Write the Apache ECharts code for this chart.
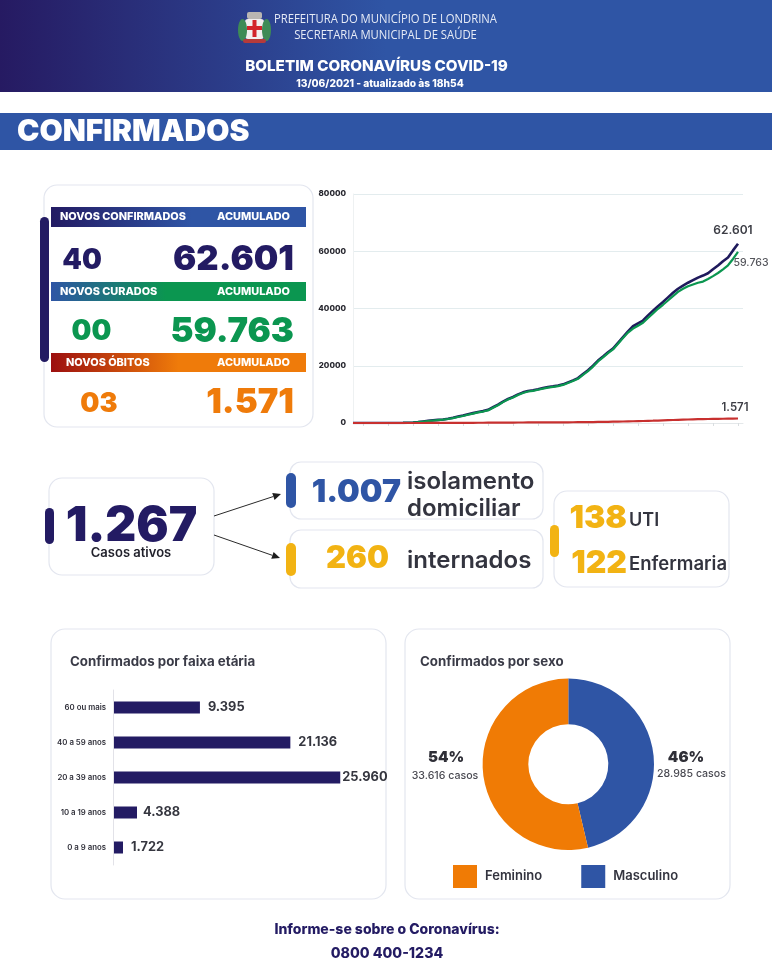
<!DOCTYPE html>
<html><head><meta charset="utf-8">
<style>html,body{margin:0;padding:0;background:#fff}#c{width:772px;height:960px}</style>
<script src="https://cdn.jsdelivr.net/npm/echarts@6/dist/echarts.min.js"></script>
</head><body><div id="c"></div>
<script>
// ---- data ----
const weeks = ['s0','s1','s2','s3','s4','s5','s6','s7','s8','s9','s10','s11','s12','s13','s14','s15','s16','s17','s18','s19','s20','s21','s22','s23','s24','s25','s26','s27','s28','s29','s30','s31','s32','s33','s34','s35','s36','s37','s38','s39','s40','s41','s42','s43','s44','s45','s46','s47','s48','s49','s50','s51','s52','s53','s54','s55','s56','s57','s58','s59','s60','s61','s62','s63','s64','s65','s66','s67','s68','s69','s70','s71','s72','s73','s74','s75','s76','s77','s78'];
const confirmados = [0,0,0,0,0,0,0,0,0,10,30,80,200,350,550,750,950,1100,1250,1500,1850,2250,2600,3050,3450,3850,4150,4600,5500,6400,7500,8400,9100,10000,10700,11200,11450,11800,12200,12550,12800,13100,13500,14200,14900,15700,17100,18400,20000,21800,23200,24700,26000,28000,30000,32000,33800,34800,35800,37600,39200,40800,42300,43900,45500,46900,48000,49000,49900,50800,51500,52300,53700,55000,56500,57800,60300,62601];
const curados = [0,0,0,0,0,0,0,0,0,0,10,50,150,280,450,650,850,1000,1150,1400,1700,2100,2450,2900,3300,3700,4000,4400,5300,6200,7300,8200,8900,9800,10500,11000,11250,11600,12000,12350,12600,12900,13300,14000,14650,15450,16800,18100,19700,21500,22900,24400,25700,27700,29700,31600,33000,34000,35000,36700,38300,39900,41300,42800,44300,45800,46900,47800,48400,49000,49400,50300,51300,52400,53700,55100,57300,59763];
const obitos = [0,0,0,0,0,0,0,0,0,0,1,2,4,6,8,10,14,18,24,30,36,42,50,60,70,80,90,100,112,125,138,150,160,170,178,185,190,196,202,210,218,226,235,245,258,272,290,310,335,360,390,420,455,490,530,575,620,660,700,750,800,860,920,980,1040,1100,1160,1220,1270,1320,1360,1400,1430,1460,1490,1520,1550,1571];
const faixas = ['0 a 9 anos','10 a 19 anos','20 a 39 anos','40 a 59 anos','60 ou mais'];
// printed numbers, and the bar lengths as the picture actually draws them
const faixaValores = [1722,4388,25960,21136,9395];
const faixaBarras = [1140,2740,25960,20260,9930];
const sexos = ['Masculino','Feminino'];
const sexoValores = [28985,33616];
const yTicks = [0,20000,40000,60000,80000];

const NAVY='#231b63', BLUE='#2f55a5', GREEN='#0b9650', ORANGE='#ef7b0a', YELLOW='#f2b313', RED='#c8302f', INK='#33343f';
const SANS='Inter';
const fmt = v => String(v).replace(/\B(?=(\d{3})+$)/g,'.');

function T(x,y,text,font,fill,align,scaleX){
  return {type:'text',z:5,x,y,scaleX:scaleX||1,style:{x:0,y:0,text,font,fill,textAlign:align||'left',textVerticalAlign:'middle'}};
}
function R(x,y,w,h,r,fill,stroke,z){
  return {type:'rect',z:z||1,shape:{x,y,width:w,height:h,r},style:{fill,stroke:stroke||null,lineWidth:stroke?1.2:0}};
}
function G(a,b,stop){
  return {type:'linear',x:0,y:0,x2:1,y2:0,colorStops:[{offset:0,color:a},{offset:stop,color:b},{offset:1,color:b}]};
}
function arrow(x1,y1,x2,y2){
  const a=Math.atan2(y2-y1,x2-x1),L=8,W=3.6;
  const bx=x2-L*Math.cos(a),by=y2-L*Math.sin(a);
  return [
    {type:'line',z:3,shape:{x1,y1,x2:bx,y2:by},style:{stroke:'#2a2a2a',lineWidth:1}},
    {type:'polygon',z:3,shape:{points:[[x2,y2],[bx-W*Math.sin(a),by+W*Math.cos(a)],[bx+W*Math.sin(a),by-W*Math.cos(a)]]},style:{fill:'#1d1d1d'}}
  ];
}
const PANEL='#e3e6ef';
const BIG='900 34.6px '+SANS, MID='900 28px '+SANS;
const BAND='800 10.9px '+SANS;
const g=[
  // header
  R(0,0,772,92,0,G('#261a62',BLUE,0.5)),
  R(0,113,772,37,0,BLUE),
  // crest
  {type:'ellipse',z:3,shape:{cx:242.5,cy:30,rx:4.5,ry:11},style:{fill:'#3e8b56'}},
  {type:'ellipse',z:3,shape:{cx:266.5,cy:30,rx:4.5,ry:11},style:{fill:'#3e8b56'}},
  R(245,19,19,20,3,'#f1eeee'),
  R(252.5,20,4,17,0,'#d2232a',null,4),
  R(247,26,15,4,0,'#d2232a',null,4),
  R(247,12,15,7,2,'#b9b6b2',null,4),
  R(243,39,23,4,2,'#b53a3a',null,4),
  T(385.5,20,'PREFEITURA DO MUNICÍPIO DE LONDRINA','400 12px "Open Sans"','#e6ebf6','center',0.94),
  T(385.5,36,'SECRETARIA MUNICIPAL DE SAÚDE','400 12px "Open Sans"','#e6ebf6','center',0.94),
  T(376.5,66,'BOLETIM CORONAVÍRUS COVID-19','800 15.2px '+SANS,'#fff','center'),
  T(380,84,'13/06/2021 - atualizado às 18h54','800 10.2px '+SANS,'#fff','center'),
  T(17,132,'CONFIRMADOS','900 30px '+SANS,'#fff','left'),
  // KPI panel
  R(44,185,269,242,13,'#fff',PANEL),
  R(40,217,9,145,4.5,NAVY,null,3),
  R(51,207,255,20,0,G(NAVY,BLUE,0.55),null,2),
  R(51,282,255,19,0,G(BLUE,GREEN,0.45),null,2),
  R(51,353,255,19,0,G('#9c0f0f',ORANGE,0.5),null,2),
  T(60,217,'NOVOS CONFIRMADOS',BAND,'#fff'),
  T(290,217,'ACUMULADO',BAND,'#fff','right'),
  T(60,291.5,'NOVOS CURADOS',BAND,'#fff'),
  T(290,291.5,'ACUMULADO',BAND,'#fff','right'),
  T(66,363,'NOVOS ÓBITOS',BAND,'#fff'),
  T(290,363,'ACUMULADO',BAND,'#fff','right'),
  T(82,261,'40',MID,NAVY,'center'),
  T(294,259.5,'62.601',BIG,NAVY,'right'),
  T(91.5,332,'00',MID,GREEN,'center'),
  T(294,331.5,'59.763',BIG,GREEN,'right'),
  T(99,404,'03','900 27px '+SANS,ORANGE,'center'),
  T(294,402.5,'1.571',BIG,ORANGE,'right'),
  // active cases
  R(49,478,165,97,13,'#fff',PANEL),
  R(45,508,9,36,4.5,NAVY,null,3),
  T(131.5,527,'1.267','900 48px '+SANS,NAVY,'center'),
  T(131,553,'Casos ativos','600 13px '+SANS,'#22222c','center'),
  ...arrow(214,516,281,494),
  ...arrow(214,535,280,558),
  R(290,462,253,57,11,'#fff',PANEL),
  R(290,530,253,58,11,'#fff',PANEL),
  R(554,491,175,96,13,'#fff',PANEL),
  R(286,473,10,35,5,BLUE,null,3),
  R(286,543,10,33,5,YELLOW,null,3),
  R(550,525,9,32,4.5,YELLOW,null,3),
  T(401,492,'1.007','900 32px '+SANS,BLUE,'right'),
  T(407,482,'isolamento','600 24px '+SANS,INK),
  T(407,509,'domiciliar','600 24px '+SANS,INK),
  T(389,559,'260','900 31px '+SANS,YELLOW,'right'),
  T(407,561,'internados','600 24px '+SANS,INK),
  T(627,518,'138','900 32px '+SANS,YELLOW,'right'),
  T(629,521,'UTI','600 18px '+SANS,INK),
  T(627,563,'122','900 32px '+SANS,YELLOW,'right'),
  T(629,564,'Enfermaria','600 18.5px '+SANS,INK),
  // lower panels
  R(51,629,335,270,14,'#fff',PANEL),
  R(405,629,325,270,14,'#fff',PANEL),
  T(70,662,'Confirmados por faixa etária','700 13.3px '+SANS,'#3a3b47'),
  T(420,662,'Confirmados por sexo','700 13.3px '+SANS,'#3a3b47'),
  T(446,757,'54%','900 15px '+SANS,'#2f2f37','center'),
  T(445,776,'33.616 casos','500 10.6px '+SANS,'#4a4a52','center'),
  T(686,757,'46%','900 15px '+SANS,'#2f2f37','center'),
  T(691.5,774,'28.985 casos','500 10.6px '+SANS,'#4a4a52','center'),
  // footer
  T(387,930,'Informe-se sobre o Coronavírus:','800 14px '+SANS,NAVY,'center'),
  T(387,954,'0800 400-1234','800 14.2px '+SANS,NAVY,'center')
];

const lineSeries=(name,data,color,w,lab)=>({type:'line',name,xAxisIndex:0,yAxisIndex:0,data,
  showSymbol:false,symbol:'none',silent:true,lineStyle:{color,width:w},itemStyle:{color},animation:false,
  endLabel:Object.assign({show:true,formatter:p=>fmt(p.value),align:'center',verticalAlign:'middle',fontFamily:SANS},lab)});

const option={
  animation:false,
  backgroundColor:'#fff',
  textStyle:{fontFamily:SANS},
  graphic:{elements:g},
  legend:{data:['Feminino','Masculino'],left:453,top:865,padding:0,itemWidth:24,itemHeight:23,itemGap:39,selectedMode:false,
    icon:'rect',textStyle:{fontFamily:SANS,fontWeight:600,fontSize:13,color:'#33343f',padding:[4,0,0,3]}},
  grid:[
    {left:353,top:194,width:390,height:229,containLabel:false},
    {left:113,top:690,width:227.6,height:175,containLabel:false}
  ],
  xAxis:[
    {type:'category',gridIndex:0,data:weeks,boundaryGap:false,
      axisLine:{lineStyle:{color:'#e4e8ea'}},axisLabel:{show:false},
      axisTick:{interval:i=>i%5===2,length:3,lineStyle:{color:'#d9dde0'}},splitLine:{show:false}},
    {type:'value',gridIndex:1,min:0,max:26000,z:3,axisLine:{show:false},axisTick:{show:false},axisLabel:{show:false},splitLine:{show:false}}
  ],
  yAxis:[
    {type:'value',gridIndex:0,min:yTicks[0],max:yTicks[yTicks.length-1],interval:yTicks[1],
      axisLine:{show:true,lineStyle:{color:'#eef1f2'}},axisTick:{show:false},
      axisLabel:{margin:7,formatter:v=>String(v),fontFamily:SANS,fontWeight:800,fontSize:8,color:'#26262e'},
      splitLine:{lineStyle:{color:'#e3ecee',width:1}}},
    {type:'category',gridIndex:1,data:faixas,z:3,
      axisLine:{show:true,lineStyle:{color:'#e2e2e8'}},axisTick:{show:false},
      axisLabel:{margin:7,fontFamily:SANS,fontWeight:600,fontSize:7.8,color:'#2e2e38'},splitLine:{show:false}}
  ],
  series:[
    lineSeries('Confirmados',confirmados,'#1f1a5c',2.6,{offset:[-13,-13],fontWeight:600,fontSize:12,color:'#3c3d45'}),
    lineSeries('Curados',curados,GREEN,2.2,{offset:[5,11],fontWeight:500,fontSize:10.6,color:'#55565c'}),
    lineSeries('Óbitos',obitos,RED,2.2,{offset:[-11,-11],fontWeight:600,fontSize:11.4,color:'#3c3d45'}),
    {type:'bar',xAxisIndex:1,yAxisIndex:1,barWidth:12,silent:true,
      data:faixaBarras.map((v,i)=>({value:v,label:{distance:faixaValores[i]===Math.max(...faixaValores)?2:(v<3000&&v>2000?6:8),formatter:fmt(faixaValores[i])}})),
      itemStyle:{color:NAVY},
      label:{show:true,position:'right',fontFamily:SANS,fontWeight:700,fontSize:12.8,color:'#35363f'}},
    {type:'pie',center:[568.3,764.3],radius:[40,85.7],startAngle:90,clockwise:true,silent:true,
      label:{show:false},labelLine:{show:false},
      data:sexos.map((n,i)=>({name:n,value:sexoValores[i],itemStyle:{color:n==='Masculino'?BLUE:'#f07b05'}}))}
  ]
};
echarts.init(document.getElementById('c'),null,{renderer:'canvas',width:772,height:960}).setOption(option);
</script></body></html>
